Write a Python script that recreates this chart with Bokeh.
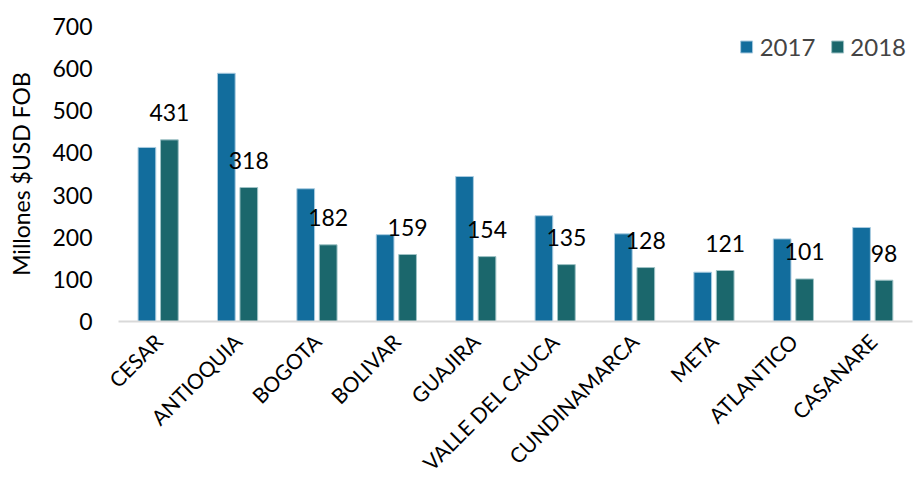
from bokeh.plotting import figure
from bokeh.models import ColumnDataSource, FactorRange, Range1d, Legend, LegendItem, LabelSet
from bokeh.transform import dodge
from bokeh.core.properties import value
from bokeh.embed import file_html
from bokeh.resources import INLINE
from math import pi

categories = ["CESAR", "ANTIOQUIA", "BOGOTA", "BOLIVAR", "GUAJIRA",
              "VALLE DEL CAUCA", "CUNDINAMARCA", "META", "ATLANTICO", "CASANARE"]
v2017 = [413, 589, 315, 206, 344, 251, 208, 117, 196, 223]
v2018 = [431, 318, 182, 159, 154, 135, 128, 121, 101, 98]
labels2018 = [str(v) for v in v2018]
y_ticks = [0, 100, 200, 300, 400, 500, 600, 700]

FONT = "Lato"
src = ColumnDataSource(dict(cat=categories, v2017=v2017, v2018=v2018, lab=labels2018))

p = figure(x_range=FactorRange(*categories, range_padding=0), y_range=Range1d(0, 700),
           frame_width=794, frame_height=295,
           min_border_left=118, min_border_right=12, min_border_top=26, min_border_bottom=0,
           output_backend="svg", toolbar_location=None, background_fill_color="white",
           border_fill_color="white", outline_line_color=None)

r1 = p.vbar(x=dodge("cat", -0.142, range=p.x_range), top="v2017", width=0.223, source=src,
            fill_color="#126d9d", line_color="#a9cbe0", line_width=1)
r2 = p.vbar(x=dodge("cat", 0.141, range=p.x_range), top="v2018", width=0.223, source=src,
            fill_color="#1b676c", line_color="#9fc3c6", line_width=1)

labels = LabelSet(x=dodge("cat", 0.141, range=p.x_range), y="v2018", text="lab", source=src,
                  text_align="center", text_baseline="middle", y_offset=27,
                  text_font=value(FONT), text_font_size="23px", text_color="black")
p.add_layout(labels)

p.xgrid.grid_line_color = None
p.ygrid.grid_line_color = None

p.yaxis.ticker = y_ticks
p.yaxis.axis_line_color = None
p.yaxis.major_tick_line_color = None
p.yaxis.minor_tick_line_color = None
p.yaxis.major_tick_out = 0
p.yaxis.minor_tick_out = 0
p.yaxis.major_label_text_font = FONT
p.yaxis.major_label_text_font_size = "23px"
p.yaxis.major_label_text_color = "black"
p.yaxis.major_label_standoff = 26
p.yaxis.axis_label = "Millones $USD FOB"
p.yaxis.axis_label_text_font = FONT
p.yaxis.axis_label_text_font_size = "23px"
p.yaxis.axis_label_text_font_style = "normal"
p.yaxis.axis_label_text_color = "black"
p.yaxis.axis_label_standoff = 14

p.xaxis.axis_line_color = "#d9d9d9"
p.xaxis.axis_line_width = 2
p.xaxis.major_tick_line_color = None
p.xaxis.minor_tick_line_color = None
p.xaxis.major_tick_out = 0
p.xaxis.minor_tick_out = 0
p.xaxis.major_label_orientation = pi / 4
p.xaxis.major_label_text_font = FONT
p.xaxis.major_label_text_font_size = "21px"
p.xaxis.major_label_text_color = "black"
p.xaxis.major_label_standoff = 16

legend = Legend(items=[LegendItem(label="2017", renderers=[r1]),
                       LegendItem(label="2018", renderers=[r2])],
                location="top_right", orientation="horizontal",
                padding=0, margin=6, spacing=14, border_line_color=None,
                background_fill_alpha=0, glyph_width=15, glyph_height=15,
                label_text_font=FONT, label_text_font_size="24px", label_standoff=6,
                label_height=22)
p.add_layout(legend, "center")

open("out.html", "w").write(file_html(p, INLINE))
